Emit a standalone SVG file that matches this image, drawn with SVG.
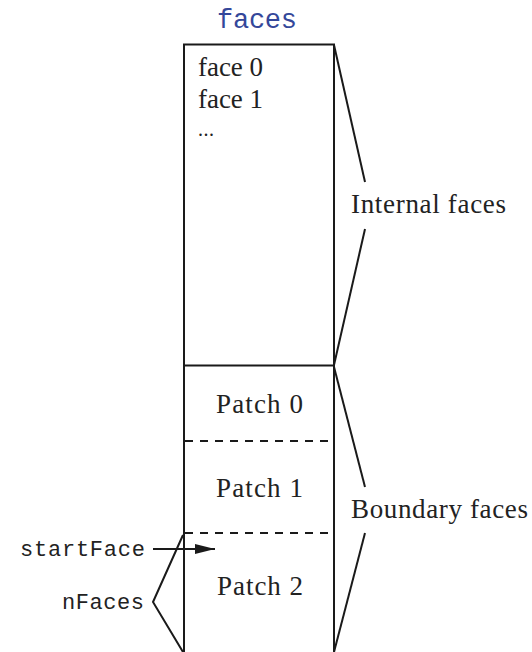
<svg xmlns="http://www.w3.org/2000/svg" width="532" height="652" viewBox="0 0 532 652">
<style>
.ln{stroke:#1a1a1a;stroke-width:2;fill:none;stroke-linecap:butt}
.dash{stroke:#1a1a1a;stroke-width:2;fill:none;stroke-dasharray:8 7}
.rm{font-family:"Liberation Serif","DejaVu Serif",serif;font-size:27px;fill:#222}
.tt{font-family:"Liberation Mono","DejaVu Sans Mono",monospace;font-size:22px;fill:#222}
.title{font-family:"Liberation Mono","DejaVu Sans Mono",monospace;font-size:27px;fill:#34479a}
</style>
<defs>
<marker id="ah" markerWidth="20" markerHeight="12" refX="20" refY="6" orient="auto" markerUnits="userSpaceOnUse">
<path d="M0,1 L20,6 L0,11 Z" fill="#1a1a1a"/>
</marker>
</defs>
<rect width="532" height="652" fill="#fff"/>
<g id="title"><text class="title" x="217" y="28" textLength="80">faces</text></g>
<g id="array">
<path class="ln" d="M184,652 V44.5 H334 V652"/>
<line class="ln" x1="184" y1="365.5" x2="334" y2="365.5"/>
<line class="dash" x1="185" y1="441" x2="334" y2="441"/>
<line class="dash" x1="185" y1="533" x2="334" y2="533"/>
</g>
<g id="internal">
<text class="rm" x="198" y="76" textLength="65">face 0</text>
<text class="rm" x="198" y="108" textLength="65">face 1</text>
<text class="rm" x="198" y="136" style="font-size:20px" textLength="16">...</text>
</g>
<g id="patch0"><text class="rm" x="216" y="413" textLength="87">Patch 0</text></g>
<g id="patch1"><text class="rm" x="216" y="497" textLength="87">Patch 1</text></g>
<g id="patch2"><text class="rm" x="217" y="595" textLength="86">Patch 2</text></g>
<g id="internal-label"><text class="rm" x="351" y="213" textLength="155">Internal faces</text></g>
<g id="boundary-label"><text class="rm" x="351" y="518" textLength="177">Boundary faces</text></g>
<g id="startFace-label"><text class="tt" x="20" y="556" textLength="125">startFace</text></g>
<g id="nFaces-label"><text class="tt" x="62" y="609" textLength="82">nFaces</text></g>
<g id="connectors">
<polyline class="ln" points="334,45 365,182"/>
<polyline class="ln" points="365,229 334,365"/>
<polyline class="ln" points="334,367 365,487"/>
<polyline class="ln" points="365,533 334,652"/>
<polyline class="ln" points="183,535 153,602 183,652"/>
<line class="ln" x1="153" y1="549" x2="215" y2="549" marker-end="url(#ah)"/>
</g>
</svg>
